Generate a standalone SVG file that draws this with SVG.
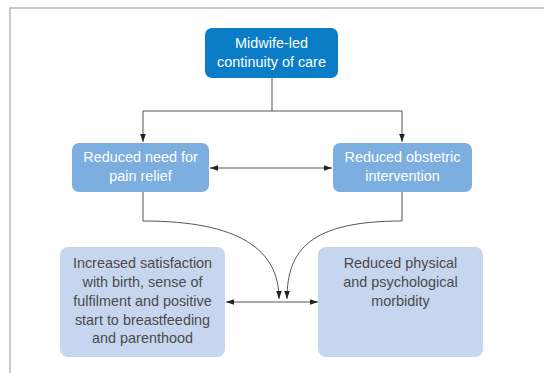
<svg xmlns="http://www.w3.org/2000/svg" width="544" height="373" viewBox="0 0 544 373">
<style>
.frame{fill:none;stroke:#b8b8b8;stroke-width:1.5}
.c{fill:none;stroke:#555;stroke-width:1}
.t{font-family:"Liberation Sans",Arial,sans-serif;font-size:14.4px;text-anchor:middle}
.w{fill:#fff}
.d{fill:#4a4a4a}
</style>
<defs>
<marker id="ah" viewBox="0 0 10 10" refX="10" refY="5" markerWidth="8" markerHeight="8" markerUnits="userSpaceOnUse" orient="auto-start-reverse">
<path d="M0,1.5 L10,5 L0,8.5 Z" fill="#222"/>
</marker>
</defs>
<rect width="544" height="373" fill="#fff"/>
<path class="frame" d="M10,373 V8 H544"/>
<g id="connectors">
<path class="c" d="M272,78 V111 M143,111 H402"/>
<path class="c" d="M143,111 V142" marker-end="url(#ah)"/>
<path class="c" d="M402,111 V142" marker-end="url(#ah)"/>
<path class="c" d="M210,168 H332" marker-start="url(#ah)" marker-end="url(#ah)"/>
<path class="c" d="M143,192 V221 C240,221 279,250 279,299" marker-end="url(#ah)"/>
<path class="c" d="M402,192 V221 C310,221 287,250 287,299" marker-end="url(#ah)"/>
<path class="c" d="M226,302 H318" marker-start="url(#ah)" marker-end="url(#ah)"/>
</g>
<g id="n1">
<rect x="205" y="28" width="133" height="50" rx="7" fill="#0b7dc6"/>
<text class="t w" x="271.5" y="48">Midwife-led</text>
<text class="t w" x="271.5" y="67">continuity of care</text>
</g>
<g id="n2">
<rect x="72" y="143" width="137" height="49" rx="7" fill="#7daee0"/>
<text class="t w" x="140.5" y="162">Reduced need for</text>
<text class="t w" x="140.5" y="181">pain relief</text>
</g>
<g id="n3">
<rect x="333" y="143" width="139" height="49" rx="7" fill="#7daee0"/>
<text class="t w" x="402.5" y="162">Reduced obstetric</text>
<text class="t w" x="402.5" y="181">intervention</text>
</g>
<g id="n4">
<rect x="60" y="247" width="165" height="110" rx="8" fill="#c6d6ee"/>
<text class="t d" x="142.5" y="268">Increased satisfaction</text>
<text class="t d" x="142.5" y="287">with birth, sense of</text>
<text class="t d" x="142.5" y="306">fulfilment and positive</text>
<text class="t d" x="142.5" y="325">start to breastfeeding</text>
<text class="t d" x="142.5" y="343">and parenthood</text>
</g>
<g id="n5">
<rect x="318" y="247" width="165" height="110" rx="8" fill="#c6d6ee"/>
<text class="t d" x="400.5" y="268">Reduced physical</text>
<text class="t d" x="400.5" y="287">and psychological</text>
<text class="t d" x="400.5" y="306">morbidity</text>
</g>
</svg>
